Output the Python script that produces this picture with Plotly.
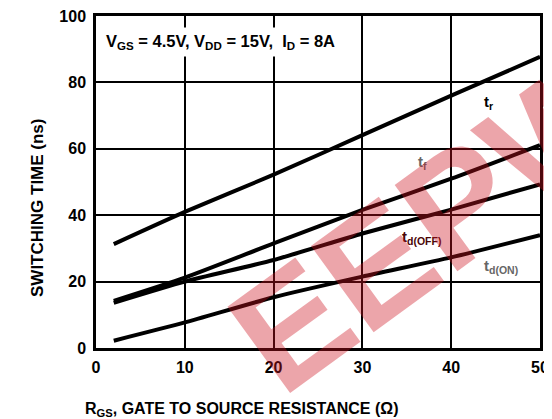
import plotly.graph_objects as go

rgs = [2, 10, 20, 30, 40, 50]
t_r = [31.3, 41.0, 52.2, 64.1, 76.0, 87.7]
t_f = [14.2, 21.2, 31.5, 41.6, 51.0, 61.1]
t_d_off = [13.6, 20.0, 26.5, 34.5, 41.7, 49.3]
t_d_on = [2.2, 7.7, 15.3, 21.5, 27.3, 34.0]

series = [("t_r", t_r), ("t_f", t_f), ("t_d_off", t_d_off), ("t_d_on", t_d_on)]

x_ticks = [0, 10, 20, 30, 40, 50]
y_ticks = [0, 20, 40, 60, 80, 100]

labels = [
    ("t<sub>r</sub>", 44.2, 74.0, "#000000"),
    ("t<sub>f</sub>", 36.8, 56.0, "#666666"),
    ("t<sub>d(OFF)</sub>", 36.6, 33.2, "#4a0608"),
    ("t<sub>d(ON)</sub>", 45.6, 24.6, "#666666"),
]

FONT = "Liberation Sans"

# page offset of the rendered figure (browser body margin)
OFF = 8
W, H = 552, 419
L, T = 96 - OFF, 16 - OFF
R = W - (540 - OFF)
B = H - (348 - OFF)
PW, PH = W - L - R, H - T - B

def px(xp):
    return (xp - OFF - L) / PW

def py(yp):
    return (H - B - (yp - OFF)) / PH

fig = go.Figure()
for name, ys in series:
    fig.add_trace(go.Scatter(x=rgs, y=ys, mode="lines", name=name,
                             line=dict(color="black", width=4, shape="spline", smoothing=0.6),
                             showlegend=False, hoverinfo="skip"))

for txt, x, y, col in labels:
    fig.add_annotation(x=x, y=y, text="<b>" + txt + "</b>", showarrow=False,
                       font=dict(family=FONT, size=15, color=col), xanchor="center", yanchor="middle")

fig.add_annotation(x=px(101), y=py(42), xref="paper", yref="paper",
                   text="<b>V<sub>GS</sub> = 4.5V, V<sub>DD</sub> = 15V,  I<sub>D</sub> = 8A</b>",
                   showarrow=False, xanchor="left", yanchor="middle", bgcolor="white",
                   borderpad=4,
                   font=dict(family=FONT, size=16.5, color="black"))

# axis titles
fig.add_annotation(x=px(241), y=py(409), xref="paper", yref="paper",
                   text="<b>R<sub>GS</sub>, GATE TO SOURCE RESISTANCE (Ω)</b>",
                   showarrow=False, xanchor="center", yanchor="middle",
                   font=dict(family=FONT, size=16, color="black"))
fig.add_annotation(x=px(37), y=py(208), xref="paper", yref="paper",
                   text="<b>SWITCHING TIME (ns)</b>", textangle=-90,
                   showarrow=False, xanchor="center", yanchor="middle",
                   font=dict(family=FONT, size=17, color="black"))

# watermark overlay
fig.add_annotation(x=px(435), y=py(222), xref="paper", yref="paper",
                   text="<b>EEPW</b>", textangle=-36, showarrow=False,
                   xanchor="center", yanchor="middle",
                   font=dict(family=FONT, size=155, color="rgba(205,19,32,0.38)"))

fig.update_layout(
    width=W, height=H,
    margin=dict(l=L, r=R, t=T, b=B),
    paper_bgcolor="white", plot_bgcolor="white",
    font=dict(family=FONT, color="black"),
)
fig.update_xaxes(range=[0, 50], tickvals=x_ticks, ticktext=["<b>%d</b>" % v for v in x_ticks],
                 tickfont=dict(size=16, family=FONT), showgrid=True, gridcolor="black", gridwidth=2,
                 zeroline=False, showline=True, linecolor="black", linewidth=2.5, mirror=True,
                 ticks="", ticklen=0, ticklabelstandoff=3, automargin=False,
                 ticklabeloverflow="allow")
fig.update_yaxes(range=[0, 100], tickvals=y_ticks, ticktext=["<b>%d</b>" % v for v in y_ticks],
                 tickfont=dict(size=16, family=FONT), showgrid=True, gridcolor="black", gridwidth=2,
                 zeroline=False, showline=True, linecolor="black", linewidth=2.5, mirror=True,
                 ticks="", ticklen=0, ticklabelstandoff=4, automargin=False,
                 ticklabeloverflow="allow")

fig.write_html("out.html")
